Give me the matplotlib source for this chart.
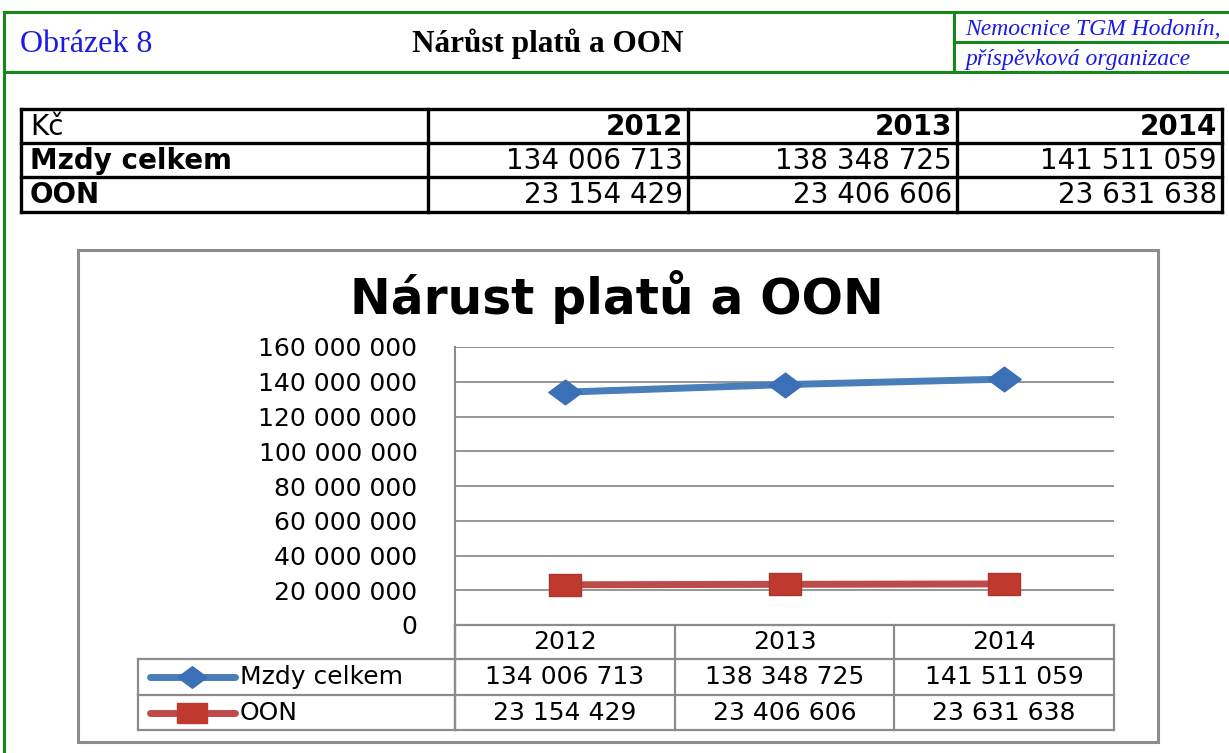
import matplotlib.pyplot as plt
from matplotlib.path import Path

# data
years = ['2012', '2013', '2014']
mzdy = [134006713, 138348725, 141511059]
oon = [23154429, 23406606, 23631638]
series_names = ['Mzdy celkem', 'OON']
yticks = [0, 20000000, 40000000, 60000000, 80000000, 100000000, 120000000, 140000000, 160000000]

W, H = 1229, 753
GREEN = '#17871a'
BLUE_TXT = '#1a1ae6'
GRAY = '#8c8c8c'
BLUE = '#4a7ebb'
BLUE_M = '#3b6fb6'
RED = '#be4b48'
RED_M = '#c0392f'

# wide markers like the original (wider than tall)
diamond = Path([(0, 1), (1.35, 0), (0, -1), (-1.35, 0), (0, 1)], closed=True)
rect = Path([(-1.5, -1), (1.5, -1), (1.5, 1), (-1.5, 1), (-1.5, -1)], closed=True)


def fmt(v):
    return f'{v:,}'.replace(',', ' ')


fig = plt.figure(figsize=(W / 100, H / 100), dpi=100)

# background layer in pixel coordinates
bg = fig.add_axes([0, 0, 1, 1])
bg.set_xlim(0, W)
bg.set_ylim(H, 0)
bg.axis('off')


def hline(y, x0, x1, color, lw):
    bg.plot([x0, x1], [y, y], color=color, lw=lw, solid_capstyle='projecting')


def vline(x, y0, y1, color, lw):
    bg.plot([x, x], [y0, y1], color=color, lw=lw, solid_capstyle='projecting')


# page header frame
hline(12, 4, W + 5, GREEN, 2.2)
hline(72, 4, W + 5, GREEN, 2.2)
vline(4, 12, H + 5, GREEN, 2.2)
vline(954, 12, 72, GREEN, 2.2)
hline(42, 954, W + 5, GREEN, 2.2)

bg.text(20, 44, 'Obrázek 8', family='Liberation Serif', fontsize=23, color=BLUE_TXT, va='center')
bg.text(548, 44, 'Nárůst platů a OON', family='Liberation Serif', fontsize=22.5, fontweight='bold',
        ha='center', va='center')
bg.text(965, 29, 'Nemocnice TGM Hodonín,', family='Liberation Serif', fontsize=17, style='italic',
        color=BLUE_TXT, va='center')
bg.text(965, 59, 'příspěvková organizace', family='Liberation Serif', fontsize=17, style='italic',
        color=BLUE_TXT, va='center')

# top table
tx = [21, 428, 688, 957, 1222]
ty = [109, 143, 177, 212]
for y in ty:
    hline(y, tx[0], tx[-1], 'black', 2.4)
for x in tx:
    vline(x, ty[0], ty[-1], 'black', 2.4)

TF = 20
bg.text(30, 127, 'Kč', fontsize=TF, va='center')
bg.text(30, 161, series_names[0], fontsize=TF, fontweight='bold', va='center')
bg.text(30, 195, series_names[1], fontsize=TF, fontweight='bold', va='center')
for i, yr in enumerate(years):
    xr = tx[i + 2] - 5
    bg.text(xr, 127, yr, fontsize=TF, fontweight='bold', ha='right', va='center')
    bg.text(xr, 161, fmt(mzdy[i]), fontsize=TF, ha='right', va='center')
    bg.text(xr, 195, fmt(oon[i]), fontsize=TF, ha='right', va='center')

# chart frame
bg.add_patch(plt.Rectangle((78, 250), 1080, 492, fill=False, edgecolor=GRAY, lw=2.2))
bg.text(617, 297, 'Nárust platů a OON', fontsize=35, fontweight='bold', ha='center', va='center')

# plot area
CF = 18
px0, px1, py_top, py_bot = 455, 1114, 347, 625
ax = fig.add_axes([px0 / W, 1 - py_bot / H, (px1 - px0) / W, (py_bot - py_top) / H])
ax.set_xlim(-0.5, 2.5)
ax.set_ylim(0, 160000000)
ax.set_yticks(yticks)
ax.set_yticklabels([fmt(v) for v in yticks], fontsize=CF)
ax.tick_params(axis='y', length=0, pad=27)
ax.set_xticks([])
ax.grid(axis='y', color=GRAY, lw=1.3)
ax.set_axisbelow(True)
for s in ['top', 'right', 'bottom']:
    ax.spines[s].set_visible(False)
ax.spines['left'].set_color(GRAY)
ax.spines['left'].set_linewidth(1.5)
ax.patch.set_alpha(0)

xs = range(len(years))
ax.plot(xs, mzdy, color=BLUE, lw=5, marker=diamond, markersize=24, markerfacecolor=BLUE_M,
        markeredgecolor=BLUE_M, solid_capstyle='round', clip_on=False)
ax.plot(xs, oon, color=RED, lw=5, marker=rect, markersize=23, markerfacecolor=RED_M,
        markeredgecolor='#a83530', solid_capstyle='round', clip_on=False)

# data table under the chart
col_w = (px1 - px0) / 3
rows_y = [625, 659, 695, 730]
lx = 138
vline(px0, py_bot, rows_y[-1], GRAY, 1.6)
for i in range(4):
    vline(px0 + col_w * i, rows_y[0], rows_y[-1], GRAY, 1.6)
vline(lx, rows_y[1], rows_y[-1], GRAY, 1.6)
hline(rows_y[0], px0, px1, GRAY, 1.6)
for y in rows_y[1:]:
    hline(y, lx, px1, GRAY, 1.6)

for i, yr in enumerate(years):
    cx = px0 + col_w * (i + 0.5)
    bg.text(cx, 642, yr, fontsize=CF, ha='center', va='center')
    bg.text(cx, 677, fmt(mzdy[i]), fontsize=CF, ha='center', va='center')
    bg.text(cx, 713, fmt(oon[i]), fontsize=CF, ha='center', va='center')

# legend keys in the data table
bg.plot([150, 235], [677, 677], color=BLUE, lw=5, solid_capstyle='round')
bg.plot([192], [677], marker=diamond, markersize=21, color=BLUE_M)
bg.plot([150, 235], [713, 713], color=RED, lw=5, solid_capstyle='round')
bg.plot([192], [713], marker=rect, markersize=21, color=RED_M)
bg.text(240, 677, series_names[0], fontsize=CF, va='center')
bg.text(240, 713, series_names[1], fontsize=CF, va='center')

fig.savefig('out.png', dpi=100)
